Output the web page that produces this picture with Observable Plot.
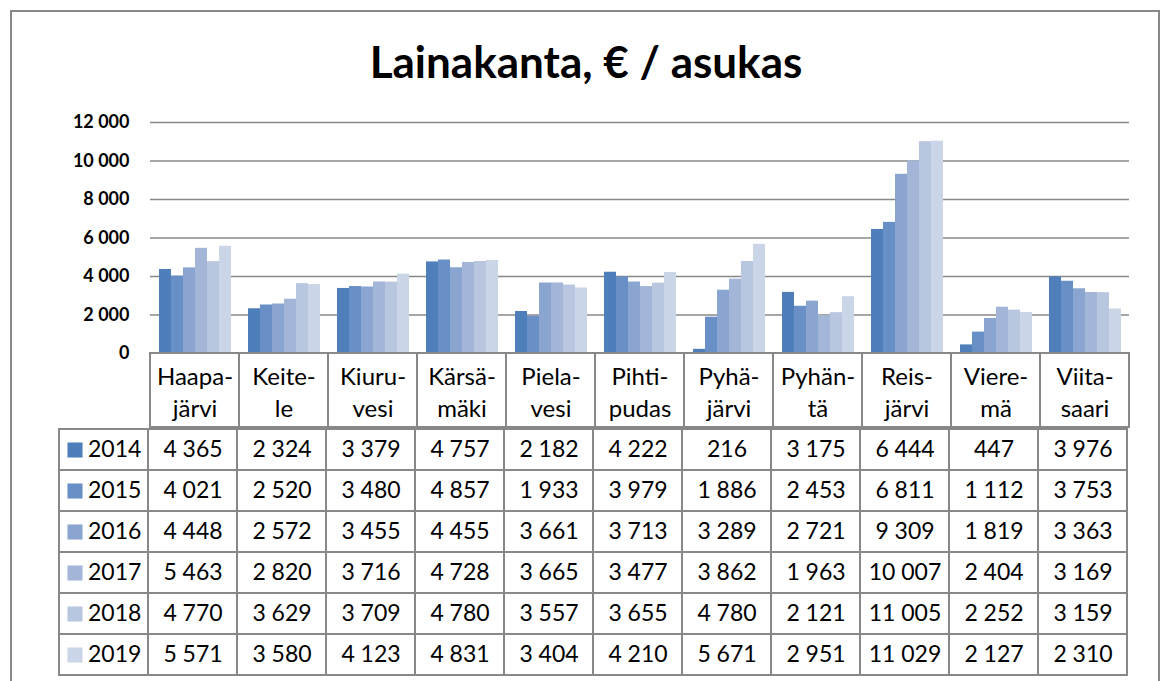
<!DOCTYPE html>
<html>
<head>
<meta charset="utf-8">
<script src="https://cdn.jsdelivr.net/npm/d3@7"></script>
<script src="https://cdn.jsdelivr.net/npm/@observablehq/plot@0.6"></script>
<style>
  html, body { margin: 0; padding: 0; background: #fff; }
  #root { position: relative; width: 1165px; height: 681px; overflow: hidden; font-family: Lato, "Open Sans", sans-serif; }
  #border { position: absolute; left: 10px; top: 10px; width: 1150px; height: 700px; border: 2px solid #888; box-sizing: border-box; }
  #title { position: absolute; left: 0; width: 1172px; top: 35px; text-align: center; font-size: 44px; font-weight: 700; color: #000; line-height: 52px; }
  .layer { position: absolute; left: 0; }
</style>
</head>
<body>
<div id="root">
  <div id="border"></div>
  <div id="title">Lainakanta, € / asukas</div>
  <div id="chart" class="layer" style="top:100px"></div>
  <div id="labels" class="layer" style="top:353px"></div>
  <div id="table" class="layer" style="top:427px"></div>
</div>
<script>
// ---- data ----
const cities = ["Haapajärvi","Keitele","Kiuruvesi","Kärsämäki","Pielavesi","Pihtipudas","Pyhäjärvi","Pyhäntä","Reisjärvi","Vieremä","Viitasaari"];
const cityLabels = ["Haapa-\njärvi","Keite-\nle","Kiuru-\nvesi","Kärsä-\nmäki","Piela-\nvesi","Pihti-\npudas","Pyhä-\njärvi","Pyhän-\ntä","Reis-\njärvi","Viere-\nmä","Viita-\nsaari"];
const years = ["2014","2015","2016","2017","2018","2019"];
const v2014 = [4365, 2324, 3379, 4757, 2182, 4222, 216, 3175, 6444, 447, 3976];
const v2015 = [4021, 2520, 3480, 4857, 1933, 3979, 1886, 2453, 6811, 1112, 3753];
const v2016 = [4448, 2572, 3455, 4455, 3661, 3713, 3289, 2721, 9309, 1819, 3363];
const v2017 = [5463, 2820, 3716, 4728, 3665, 3477, 3862, 1963, 10007, 2404, 3169];
const v2018 = [4770, 3629, 3709, 4780, 3557, 3655, 4780, 2121, 11005, 2252, 3159];
const v2019 = [5571, 3580, 4123, 4831, 3404, 4210, 5671, 2951, 11029, 2127, 2310];
const yTicks = [0, 2000, 4000, 6000, 8000, 10000, 12000];
const yearColors = ["#4f7fba", "#6890c6", "#8aa5cf", "#a3b6d8", "#b9c6e0", "#cbd5e8"];

// ---- derived table ----
const series = [v2014, v2015, v2016, v2017, v2018, v2019];
const rows = [];
years.forEach((y, i) => cities.forEach((c, j) => rows.push({year: y, city: c, value: series[i][j]})));
const labelOf = new Map(cities.map((c, i) => [c, cityLabels[i]]));
const fmt = v => d3.format(",")(v).replace(/,/g, "\u00a0");

const W = 1165, ML = 147, MR = 34;
const gray = "#888";
const font = "Lato, 'Open Sans', sans-serif";

// ---- bar chart ----
const chart = Plot.plot({
  width: W, height: 255,
  marginLeft: ML, marginRight: MR, marginTop: 22, marginBottom: 2,
  style: {fontFamily: font, background: "transparent", overflow: "visible"},
  fx: {domain: cities, padding: 0, axis: null},
  x: {domain: years, paddingInner: 0, paddingOuter: 0.6, axis: null},
  y: {domain: [0, 12000], axis: null},
  color: {domain: years, range: yearColors},
  marks: [
    Plot.ruleY(yTicks.slice(1), {stroke: gray, strokeWidth: 1.6, strokeOpacity: 1}),
    Plot.barY(rows, {fx: "city", x: "year", y: "value", fill: "year", inset: 0}),
    Plot.ruleY([0], {stroke: gray, strokeWidth: 2, strokeOpacity: 1}),
    Plot.axisY({ticks: yTicks, tickSize: 0, tickPadding: 21, tickFormat: fmt, fontWeight: "bold", fontSize: 18, label: null, facetAnchor: "left", fill: "#000"})
  ]
});
document.getElementById("chart").appendChild(chart);

// ---- category label row ----
const labelsPlot = Plot.plot({
  width: W, height: 74,
  marginLeft: ML, marginRight: MR, marginTop: 0, marginBottom: 0,
  style: {fontFamily: font, background: "transparent", overflow: "visible"},
  x: {domain: cities, padding: 0, axis: null},
  marks: [
    Plot.cell(cities, {x: d => d, fill: "white", stroke: gray, strokeWidth: 2}),
    Plot.text(cities, {x: d => d, text: d => labelOf.get(d), fontSize: 24, lineHeight: 1.35, fill: "#000"})
  ]
});
document.getElementById("labels").appendChild(labelsPlot);

// ---- data table ----
const keyCol = "key";
const tW = (W - ML - MR) / cities.length;
const tablePlot = Plot.plot({
  width: W, height: 250,
  marginLeft: ML - tW - 2, marginRight: MR, marginTop: 0, marginBottom: 0,
  style: {fontFamily: font, background: "transparent", overflow: "visible"},
  x: {domain: [keyCol, ...cities], padding: 0, axis: null},
  y: {domain: years, padding: 0, axis: null},
  color: {domain: years, range: yearColors},
  marks: [
    Plot.cell(rows, {x: "city", y: "year", fill: "white", stroke: gray, strokeWidth: 2}),
    Plot.cell(years, {x: () => keyCol, y: d => d, fill: "white", stroke: gray, strokeWidth: 2}),
    Plot.text(rows, {x: "city", y: "year", text: d => fmt(d.value), fontSize: 23, fill: "#000"}),
    Plot.dot(years, {x: () => keyCol, y: d => d, symbol: "square", r: 8.5, fill: d => d, stroke: null, dx: -29}),
    Plot.text(years, {x: () => keyCol, y: d => d, text: d => d, textAnchor: "start", dx: -16, fontSize: 23, fill: "#000"})
  ]
});
document.getElementById("table").appendChild(tablePlot);
</script>
</body>
</html>
